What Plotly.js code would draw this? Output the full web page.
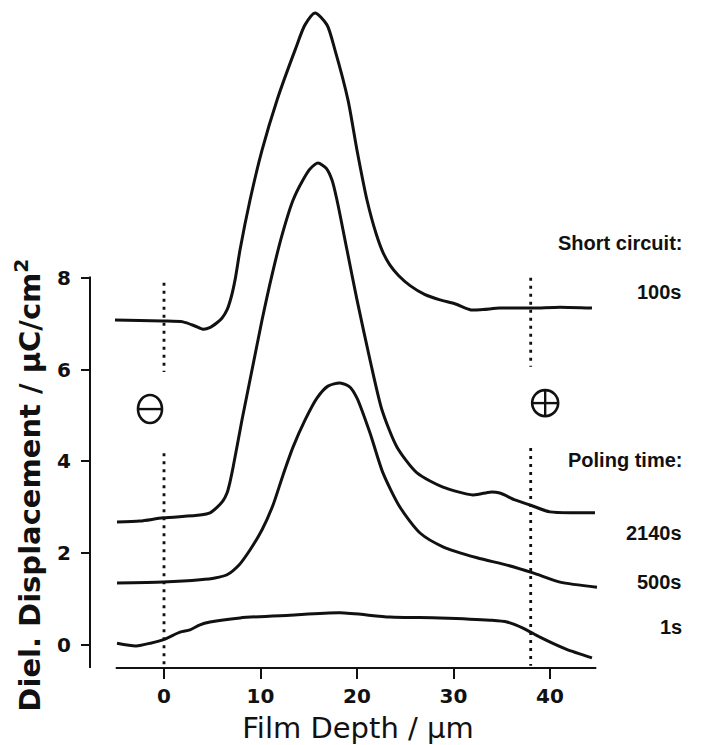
<!DOCTYPE html>
<html>
<head>
<meta charset="utf-8">
<script src="https://cdn.plot.ly/plotly-3.0.1.min.js"></script>
<style>html,body{margin:0;padding:0;background:#fff;}#chart{width:701px;height:745px;}</style>
</head>
<body>
<div id="chart"></div>
<script>
// Short circuit 100 s
const depth100 = [-5.08, -2.5, -0.1, 1.97, 3.21, 4.04, 4.8, 5.49, 6.0, 6.53, 6.94, 7.36, 7.88, 8.91, 10.16, 11.71, 13.58, 14.61, 15.65, 16.89, 17.72, 19.07, 20.0, 21.04, 22.0, 22.7, 23.4, 24.3, 25.5, 27.0, 28.6, 30.2, 31.8, 33.06, 34.8, 38.24, 41.04, 44.35];
const disp100  = [7.08, 7.07, 7.06, 7.04, 6.95, 6.88, 6.92, 7.02, 7.12, 7.30, 7.56, 7.95, 8.61, 9.69, 10.78, 11.87, 12.96, 13.51, 13.77, 13.51, 12.96, 11.87, 10.78, 9.69, 8.95, 8.55, 8.28, 8.05, 7.83, 7.64, 7.52, 7.43, 7.30, 7.31, 7.34, 7.34, 7.36, 7.34];
// Poling 2140 s
const depth2140 = [-4.87, -2.49, -0.1, 3.73, 4.77, 5.49, 6.11, 6.53, 6.84, 7.15, 8.08, 9.12, 10.16, 11.19, 12.23, 13.37, 14.40, 15.13, 15.96, 16.79, 17.41, 17.93, 18.96, 20.0, 21.35, 22.59, 24.15, 26.22, 28.91, 32.02, 33.78, 34.8, 36.37, 37.93, 40.0, 42.59, 44.66];
const disp2140  = [2.68, 2.70, 2.77, 2.83, 2.88, 3.0, 3.14, 3.31, 3.55, 3.86, 4.90, 5.99, 7.08, 8.06, 8.93, 9.69, 10.13, 10.37, 10.50, 10.39, 10.13, 9.69, 8.61, 7.52, 6.21, 5.12, 4.31, 3.75, 3.44, 3.27, 3.33, 3.31, 3.16, 3.05, 2.90, 2.88, 2.88];
// Poling 500 s
const depth500 = [-4.87, -0.1, 3.73, 5.28, 6.53, 7.8, 8.91, 10.16, 11.30, 12.33, 13.37, 14.61, 15.85, 16.99, 18.24, 19.27, 20.0, 21.35, 22.69, 24.46, 26.53, 28.91, 32.44, 35.54, 38.24, 41.04, 44.87];
const disp500  = [1.35, 1.37, 1.42, 1.46, 1.53, 1.75, 2.07, 2.51, 3.05, 3.70, 4.31, 4.90, 5.38, 5.64, 5.71, 5.62, 5.38, 4.62, 3.75, 3.0, 2.44, 2.14, 1.90, 1.74, 1.57, 1.37, 1.26];
// Poling 1 s
const depth1 = [-4.87, -2.90, -1.4, 0.10, 1.66, 2.69, 3.73, 4.77, 7.88, 13.06, 18.24, 23.42, 28.60, 33.78, 35.54, 37.20, 38.96, 41.66, 44.35];
const disp1  = [0.04, -0.02, 0.04, 0.13, 0.28, 0.33, 0.44, 0.50, 0.59, 0.65, 0.70, 0.61, 0.59, 0.54, 0.50, 0.37, 0.17, -0.09, -0.28];

const xTicks = [0, 10, 20, 30, 40];
const yTicks = [0, 2, 4, 6, 8];
const electrodes = [0, 38];

const lineStyle = {color: '#111', width: 3, shape: 'spline', smoothing: 0.7};
function curve(x, y, name) {
  return {x: x, y: y, name: name, type: 'scatter', mode: 'lines', line: lineStyle, hoverinfo: 'skip'};
}
const traces = [
  curve(depth100, disp100, '100s'),
  curve(depth2140, disp2140, '2140s'),
  curve(depth500, disp500, '500s'),
  curve(depth1, disp1, '1s')
];

const ink = '#111';
const dotted = {color: ink, width: 2.8, dash: '3px,5px'};
function symbolShapes(xc, yc, w, h, cross) {
  const s = [
    {type: 'circle', xref: 'x', yref: 'y', xsizemode: 'pixel', ysizemode: 'pixel', xanchor: xc, yanchor: yc,
     x0: -w / 2, x1: w / 2, y0: -h / 2, y1: h / 2, line: {color: ink, width: 2.6}},
    {type: 'line', xref: 'x', yref: 'y', xsizemode: 'pixel', ysizemode: 'pixel', xanchor: xc, yanchor: yc,
     x0: -w / 2, x1: w / 2, y0: 0, y1: 0, line: {color: ink, width: 2.4}}
  ];
  if (cross) {
    s.push({type: 'line', xref: 'x', yref: 'y', xsizemode: 'pixel', ysizemode: 'pixel', xanchor: xc, yanchor: yc,
      x0: 0, x1: 0, y0: -h / 2, y1: h / 2, line: {color: ink, width: 2.4}});
  }
  return s;
}
const shapes = [
  {type: 'line', xref: 'paper', yref: 'y', x0: 0, x1: 0, y0: -0.5, y1: 8.03, line: {color: ink, width: 2}},
  {type: 'line', xref: 'x', yref: 'paper', x0: -5, x1: 44.8, y0: 0, y1: 0, line: {color: ink, width: 2}},
  {type: 'line', xref: 'x', yref: 'y', x0: electrodes[0], x1: electrodes[0], y0: 7.89, y1: 5.95, line: dotted},
  {type: 'line', xref: 'x', yref: 'y', x0: electrodes[0], x1: electrodes[0], y0: 4.18, y1: -0.45, line: dotted},
  {type: 'line', xref: 'x', yref: 'y', x0: electrodes[1], x1: electrodes[1], y0: 8.0, y1: 6.06, line: dotted},
  {type: 'line', xref: 'x', yref: 'y', x0: electrodes[1], x1: electrodes[1], y0: 4.29, y1: -0.45, line: dotted}
].concat(symbolShapes(-1.45, 5.14, 24, 28, false), symbolShapes(39.5, 5.27, 26, 26, true));

const labFont = {family: 'Liberation Sans, Arial, sans-serif', size: 20, color: ink};
function lab(text, y) {
  return {text: '<b>' + text + '</b>', xref: 'paper', yref: 'y', x: 1.108, y: y, xanchor: 'right', yanchor: 'middle', showarrow: false, font: labFont};
}
const annotations = [
  lab('Short circuit:', 8.76),
  lab('100s', 7.69),
  lab('Poling time:', 4.03),
  lab('2140s', 2.44),
  lab('500s', 1.37),
  lab('1s', 0.39),
  {text: '<b>Diel. Displacement / \u00b5C/cm<sup>2</sup></b>', xref: 'paper', yref: 'y', x: -0.116, y: 3.49, textangle: -90, showarrow: false, xanchor: 'center', yanchor: 'middle', font: {family: 'DejaVu Sans', size: 29, color: ink}}
];

const layout = {
  width: 701, height: 745,
  margin: {l: 90, r: 75, t: 0, b: 77},
  paper_bgcolor: '#fff', plot_bgcolor: '#fff',
  showlegend: false,
  xaxis: {
    range: [-7.668, 47.876], tickvals: xTicks, ticktext: xTicks.map(String),
    showgrid: false, zeroline: false, showline: false,
    ticks: 'outside', ticklen: 10, tickwidth: 2, tickcolor: ink,
    tickfont: {family: 'DejaVu Sans', size: 20, color: ink, weight: 'bold'},
    title: {text: 'Film Depth / \u00b5m', font: {family: 'DejaVu Sans', size: 29, color: ink}, standoff: 12}
  },
  yaxis: {
    range: [-0.501, 14.052], tickvals: yTicks, ticktext: yTicks.map(String),
    showgrid: false, zeroline: false, showline: false,
    ticks: 'outside', ticklen: 8, tickwidth: 2, tickcolor: ink,
    ticklabelstandoff: 6,
    tickfont: {family: 'DejaVu Sans', size: 20, color: ink, weight: 'bold'}
  },
  shapes: shapes,
  annotations: annotations
};

Plotly.newPlot('chart', traces, layout, {displayModeBar: false, staticPlot: true});
</script>
</body>
</html>
